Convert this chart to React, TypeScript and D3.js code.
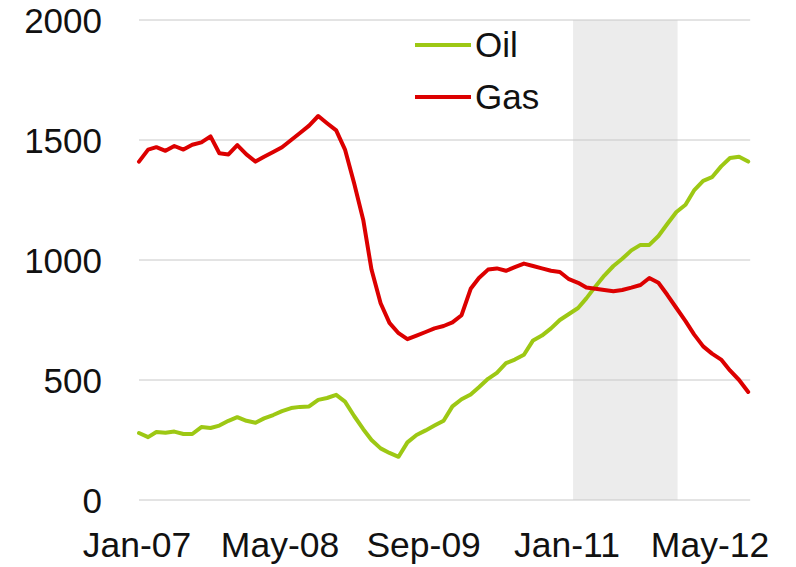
import React from "react";
import * as d3 from "d3";

const months: string[] = [
  "2007-01","2007-02","2007-03","2007-04","2007-05","2007-06","2007-07","2007-08","2007-09","2007-10","2007-11","2007-12",
  "2008-01","2008-02","2008-03","2008-04","2008-05","2008-06","2008-07","2008-08","2008-09","2008-10","2008-11","2008-12",
  "2009-01","2009-02","2009-03","2009-04","2009-05","2009-06","2009-07","2009-08","2009-09","2009-10","2009-11","2009-12",
  "2010-01","2010-02","2010-03","2010-04","2010-05","2010-06","2010-07","2010-08","2010-09","2010-10","2010-11","2010-12",
  "2011-01","2011-02","2011-03","2011-04","2011-05","2011-06","2011-07","2011-08","2011-09","2011-10","2011-11","2011-12",
  "2012-01","2012-02","2012-03","2012-04","2012-05","2012-06","2012-07","2012-08","2012-09",
];

const gasValues: number[] = [
  1410, 1460, 1470, 1455, 1475, 1460, 1480, 1490, 1515, 1445, 1440, 1479,
  1440, 1410, 1430, 1450, 1470, 1500, 1529, 1560, 1600, 1570, 1540, 1460,
  1320, 1167, 960, 820, 738, 695, 670, 685, 700, 715, 725, 740,
  770, 880, 925, 960, 965, 955, 970, 985, 975, 965, 955, 950,
  920, 905, 885, 880, 875, 870, 875, 885, 896, 925, 905, 855,
  800, 745, 690, 640, 610, 585, 540, 500, 450,
];

const oilValues: number[] = [
  279, 262, 283, 280, 285, 275, 275, 304, 300, 310, 330, 345,
  330, 322, 340, 354, 370, 383, 388, 390, 417, 425, 438, 410,
  350, 295, 250, 215, 196, 180, 240, 271, 290, 310, 330, 390,
  420, 440, 470, 505, 530, 570, 585, 605, 665, 685, 715, 750,
  775, 800, 840, 890, 935, 975, 1005, 1040, 1063, 1063, 1100, 1150,
  1200, 1230, 1290, 1330, 1345, 1390, 1425, 1430, 1410,
];

const yTicks: number[] = [0, 500, 1000, 1500, 2000];
const xTickLabels: string[] = ["2007-01", "2008-05", "2009-09", "2011-01", "2012-05"];
const shadeRange: string[] = ["2011-01-15", "2012-01-05"];
const seriesNames: string[] = ["Oil", "Gas"];
const seriesColors: string[] = ["#9dc814", "#dc0000"];

const W = 796;
const H = 567;
const FONT = "'Liberation Sans', Arial, sans-serif";

export default function App() {
  const parseM = d3.timeParse("%Y-%m");
  const parseD = d3.timeParse("%Y-%m-%d");
  const dates = months.map((m) => parseM(m) as Date);

  const x = d3
    .scaleTime()
    .domain([parseM("2007-01") as Date, parseM("2012-05") as Date])
    .range([139, 712]);
  const y = d3.scaleLinear().domain([0, 2000]).range([500, 20]);

  const plotRight = x(parseM("2012-09") as Date) + 2;
  const line = d3
    .line<number>()
    .x((_, i) => x(dates[i]))
    .y((v) => y(v))
    .curve(d3.curveLinear);

  const fmt = d3.timeFormat("%b-%y");
  const s0 = x(parseD(shadeRange[0]) as Date);
  const s1 = x(parseD(shadeRange[1]) as Date);

  const series = [oilValues, gasValues];

  return (
    <svg
      width={W}
      height={H}
      style={{ position: "absolute", left: 0, top: 0, background: "#fff" }}
      fontFamily={FONT}
    >
      <rect x={s0} y={y(2000)} width={s1 - s0} height={y(0) - y(2000)} fill="#ececec" />
      {yTicks.map((t) => (
        <g key={t}>
          <line x1={139} x2={plotRight} y1={y(t)} y2={y(t)} stroke="#c8c8c8" strokeWidth={1} />
          <text x={102} y={y(t) + 12.5} textAnchor="end" fontSize={35} fill="#111">
            {t}
          </text>
        </g>
      ))}
      {xTickLabels.map((m) => {
        const d = parseM(m) as Date;
        return (
          <text key={m} x={x(d) - 2} y={557} textAnchor="middle" fontSize={35.5} fill="#111">
            {fmt(d)}
          </text>
        );
      })}
      {series.map((vals, i) => (
        <path
          key={seriesNames[i]}
          d={line(vals) || ""}
          fill="none"
          stroke={seriesColors[i]}
          strokeWidth={4}
          strokeLinejoin="round"
          strokeLinecap="round"
        />
      ))}
      {seriesNames.map((name, i) => (
        <g key={name}>
          <line
            x1={415}
            x2={471}
            y1={45 + i * 52}
            y2={45 + i * 52}
            stroke={seriesColors[i]}
            strokeWidth={4}
          />
          <text x={475} y={57 + i * 52} fontSize={35} fill="#111">
            {name}
          </text>
        </g>
      ))}
    </svg>
  );
}
